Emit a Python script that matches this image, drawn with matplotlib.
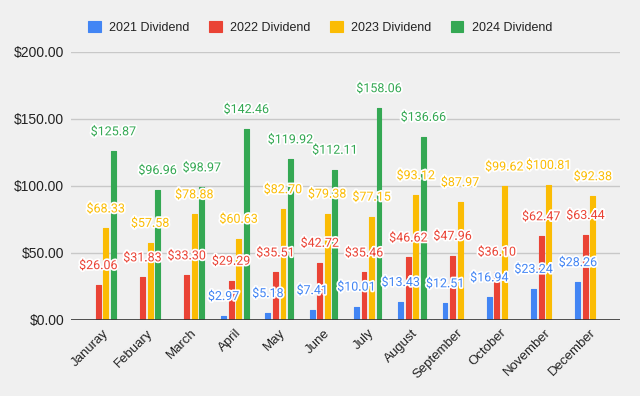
import numpy as np
import matplotlib.pyplot as plt
import matplotlib.patheffects as pe

months = ["Januray", "Febuary", "March", "April", "May", "June", "July",
          "August", "September", "October", "November", "December"]
series = ["2021 Dividend", "2022 Dividend", "2023 Dividend", "2024 Dividend"]
div_2021 = [None, None, None, 2.97, 5.18, 7.41, 10.01, 13.43, 12.51, 16.94, 23.24, 28.26]
div_2022 = [26.06, 31.83, 33.30, 29.29, 35.51, 42.72, 35.46, 46.62, 47.96, 36.10, 62.47, 63.44]
div_2023 = [68.33, 57.58, 78.88, 60.63, 82.70, 79.38, 77.15, 93.12, 87.97, 99.62, 100.81, 92.38]
div_2024 = [125.87, 96.96, 98.97, 142.46, 119.92, 112.11, 158.06, 136.66, None, None, None, None]
colors = ["#4285F4", "#EA4335", "#FBBC04", "#34A853"]

bg = "#f0f0f0"
fig = plt.figure(figsize=(6.4, 3.96), dpi=100, facecolor=bg)
ax = fig.add_axes([0.111, 0.192, 0.858, 0.677], facecolor=bg)

x = np.arange(len(months))
step = 0.17
width = 0.11
halo = [pe.withStroke(linewidth=2.5, foreground="white")]
all_series = [div_2021, div_2022, div_2023, div_2024]

# bars first, labels afterwards so the halos sit on top of bars
for i, (vals, c) in enumerate(zip(all_series, colors)):
    xs = [xi + (i - 1.5) * step for xi, v in zip(x, vals) if v is not None]
    vs = [v for v in vals if v is not None]
    ax.bar(xs, vs, width=width, color=c, edgecolor=c, linewidth=0.8,
           joinstyle="round", label=series[i], zorder=2)

for i, (vals, c) in enumerate(zip(all_series, colors)):
    for xi, v in zip(x, vals):
        if v is None:
            continue
        ax.annotate(f"${v:.2f}", (xi + (i - 1.5) * step, v), xytext=(0, 14),
                    textcoords="offset points", ha="center", va="center",
                    fontsize=9, family="Roboto", color=c,
                    path_effects=halo, zorder=3)

ax.set_xlim(-0.7, 11.7)
ax.set_ylim(0, 200)
ax.set_yticks([0, 50, 100, 150, 200])
ax.set_yticklabels(["$0.00", "$50.00", "$100.00", "$150.00", "$200.00"],
                   family="Liberation Sans", fontsize=10, color="#222222")
ax.set_xticks(x)
ax.set_xticklabels(months, rotation=45, ha="right", rotation_mode="anchor",
                   family="Liberation Sans", fontsize=9.5, color="#222222")
ax.tick_params(length=0, pad=5)
ax.grid(axis="y", color="#c8c8c8", linewidth=1, zorder=0)
ax.axhline(0, color="#333333", linewidth=1.2, zorder=4)
for s in ax.spines.values():
    s.set_visible(False)

fig.legend(loc="upper center", bbox_to_anchor=(0.5, 0.975), ncol=4, frameon=False,
           handlelength=1.0, handleheight=1.0, handletextpad=0.65, columnspacing=1.6,
           prop={"family": "Liberation Sans", "size": 9}, labelcolor="#222222")

fig.savefig("out.png", dpi=100, facecolor=bg)
